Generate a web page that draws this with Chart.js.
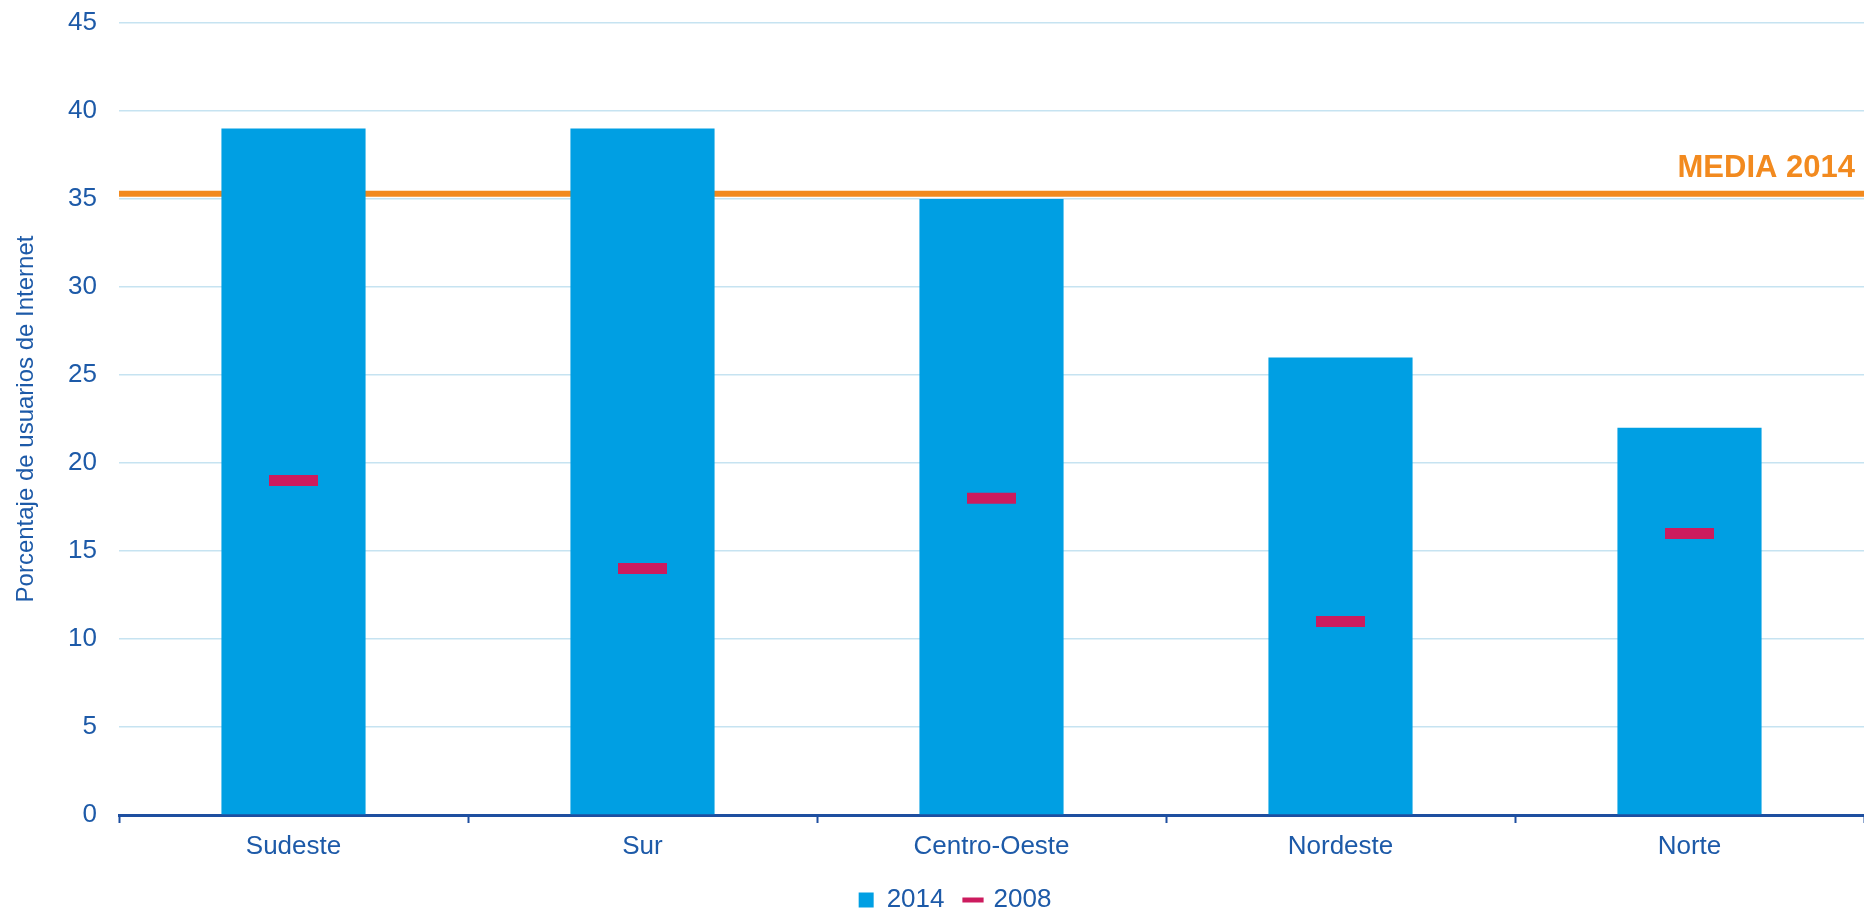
<!DOCTYPE html>
<html>
<head>
<meta charset="utf-8">
<script src="https://cdn.jsdelivr.net/npm/chart.js@4"></script>
<style>
  html, body { margin: 0; padding: 0; background: #fff; }
  #wrap { width: 1864px; height: 912px; }
</style>
</head>
<body>
<div id="wrap"><canvas id="regionChart"></canvas></div>
<script>
const regions = ["Sudeste", "Sur", "Centro-Oeste", "Nordeste", "Norte"];
const values2014 = [39, 39, 35, 26, 22];
const values2008 = [19, 14, 18, 11, 16];
const media2014 = 35.3;
const mediaLabel = "MEDIA 2014";
const yTicks = [0, 5, 10, 15, 20, 25, 30, 35, 40, 45];

const textBlue = "#1D5AA8";
const axisBlue = "#1E4FA0";
const barBlue = "#009FE3";
const markerRed = "#CC1B5E";
const orange = "#F28A1F";

Chart.defaults.font.family = "'Liberation Sans', Arial, sans-serif";
Chart.defaults.color = textBlue;

// orange average line goes behind the bars, label on the right
const mediaLine = {
  id: "mediaLine",
  afterLayout(chart) {
    // legend in the original sits a bit right of the page centre
    chart.legend.left += 23;
    chart.legend.right += 23;
  },
  beforeDatasetsDraw(chart) {
    const { ctx, chartArea, scales } = chart;
    const y = scales.y.getPixelForValue(media2014);
    ctx.save();
    ctx.strokeStyle = orange;
    ctx.lineWidth = 6;
    ctx.beginPath();
    ctx.moveTo(chartArea.left, y);
    ctx.lineTo(chartArea.right, y);
    ctx.stroke();
    ctx.restore();
  },
  afterDatasetsDraw(chart) {
    const { ctx, chartArea, scales } = chart;
    const y = scales.y.getPixelForValue(media2014);
    ctx.save();
    ctx.fillStyle = orange;
    ctx.font = "bold 31px 'Liberation Sans', Arial, sans-serif";
    ctx.textAlign = "right";
    ctx.textBaseline = "alphabetic";
    ctx.fillText(mediaLabel, chartArea.right - 9, y - 17);
    ctx.restore();
  }
};

const ctx = document.getElementById("regionChart").getContext("2d");

new Chart(ctx, {
  type: "bar",
  data: {
    labels: regions,
    datasets: [
      {
        type: "line",
        label: "2008",
        data: values2008,
        showLine: false,
        pointStyle: "line",
        pointRadius: 24.5,
        pointHoverRadius: 24.5,
        pointBorderWidth: 11,
        pointHoverBorderWidth: 11,
        pointBorderColor: markerRed,
        borderColor: markerRed,
        backgroundColor: markerRed,
        order: 0
      },
      {
        label: "2014",
        data: values2014,
        backgroundColor: barBlue,
        borderWidth: 0,
        pointStyle: "rect",
        barPercentage: 0.413,
        categoryPercentage: 1,
        order: 1
      }
    ]
  },
  options: {
    responsive: true,
    maintainAspectRatio: false,
    animation: false,
    layout: {
      autoPadding: false,
      padding: { top: 23, right: 0, bottom: -11, left: 0 }
    },
    scales: {
      x: {
        offset: true,
        grid: {
          display: true,
          drawOnChartArea: false,
          drawTicks: true,
          tickLength: 8,
          tickWidth: 2,
          tickColor: axisBlue
        },
        border: { display: true, color: axisBlue, width: 3 },
        ticks: {
          color: textBlue,
          font: { size: 26 },
          padding: 8
        },
        afterFit(scale) {
          scale.height = 51;
          scale.paddingLeft = 0;
          scale.paddingRight = 0;
        }
      },
      y: {
        min: 0,
        max: 45,
        afterBuildTicks(scale) {
          scale.ticks = yTicks.map(v => ({ value: v }));
        },
        grid: {
          color: "#C6E3F1",
          lineWidth: 1.5,
          drawTicks: false
        },
        border: { display: false },
        ticks: {
          color: textBlue,
          font: { size: 26 },
          padding: 22
        },
        title: {
          display: true,
          text: "Porcentaje de usuarios de Internet",
          color: textBlue,
          font: { size: 24 },
          padding: { top: 12, bottom: 0 }
        },
        afterFit(scale) {
          scale.width = 119;
          scale.paddingTop = 0;
          scale.paddingBottom = 0;
        }
      }
    },
    plugins: {
      legend: {
        display: true,
        position: "bottom",
        labels: {
          usePointStyle: true,
          boxHeight: 15,
          boxWidth: 15,
          padding: 21,
          color: textBlue,
          font: { size: 26 },
          generateLabels(chart) {
            const items = Chart.defaults.plugins.legend.labels.generateLabels(chart);
            items.forEach(item => {
              if (item.text === "2008") {
                item.pointStyle = "line";
                item.strokeStyle = markerRed;
                item.lineWidth = 5;
              } else {
                item.pointStyle = "rect";
                item.fillStyle = barBlue;
                item.strokeStyle = barBlue;
                item.lineWidth = 0;
              }
            });
            return items.sort((a, b) => (a.text === "2014" ? -1 : 1));
          }
        }
      },
      tooltip: { enabled: false }
    }
  },
  plugins: [mediaLine]
});
</script>
</body>
</html>
